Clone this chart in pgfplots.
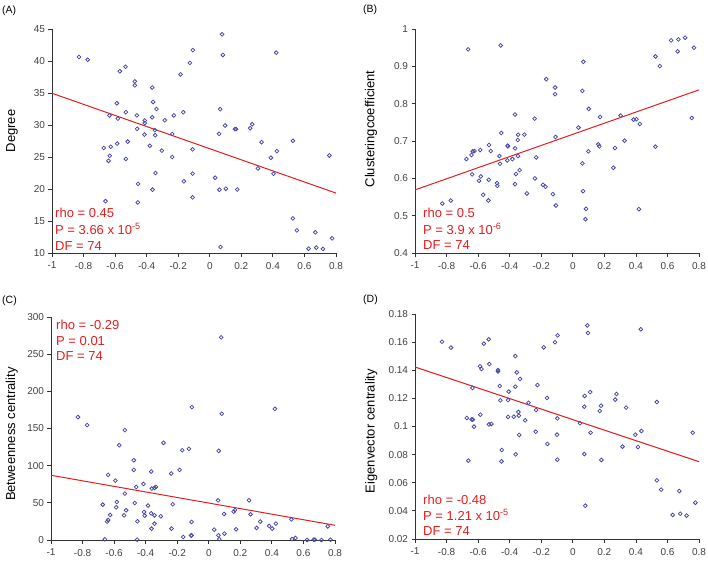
\documentclass[border=0pt]{standalone}
\usepackage{fontspec}
\setmainfont{Liberation Sans}
\usepackage{pgfplots}
\pgfplotsset{compat=1.18}
\definecolor{mk}{RGB}{70,70,165}
\definecolor{rl}{RGB}{228,30,30}
\pgfplotsset{myax/.style={
  scale only axis, width=284pt, height=224pt,
  xmin=-1, xmax=0.8,
  axis x line*=bottom, axis y line*=left,
  axis line style={line width=0.9pt, black!80, -},
  tick align=outside, major tick length=3.5pt,
  tick style={line width=0.8pt, black!80},
  xtick={-1,-0.8,-0.6,-0.4,-0.2,0,0.2,0.4,0.6,0.8},
  tick label style={font=\fontsize{10}{12}\selectfont, text=black!75},
  /pgf/number format/assume math mode=true,
  /pgf/number format/fixed,
  scaled y ticks=false, scaled x ticks=false,
  xticklabel style={yshift=-2pt},
  label style={font=\fontsize{13}{15}\selectfont},
  clip=false,
  anchor=south west,
},
pts/.style={only marks, mark=o, mark size=1.9pt, mk, mark options={line width=0.75pt}},
rline/.style={rl, line width=1pt, no marks},
}
\tikzset{
ann/.style={anchor=base west, text=rl, font=\fontsize{13}{15}\selectfont, inner sep=0pt},
plab/.style={anchor=west, font=\fontsize{10.5}{12}\selectfont, inner sep=0pt}
}
\begin{document}
\begin{tikzpicture}
\useasboundingbox (0,0) rectangle (708pt,-577pt);
% (A)
\begin{axis}[myax, at={(52pt,-253pt)}, ymin=10, ymax=45, ytick={10,15,20,25,30,35,40,45},
  ylabel={Degree}, ylabel style={at={(axis description cs:-0.141,0.545)}, anchor=center}]
\addplot[pts] coordinates {
(-0.829,40.63)(-0.774,40.2)(-0.570,38.4)(-0.534,39.1)(-0.475,36.8)(-0.475,36.2)(-0.365,35.85)(-0.589,33.4)(-0.359,33.6)(-0.338,32.5)(-0.532,32.0)(-0.636,31.5)(-0.583,31.0)(-0.462,31.5)(-0.365,31.2)(-0.412,30.7)(-0.412,30.3)(-0.285,30.75)(-0.228,31.5)(-0.168,32.0)(-0.185,37.9)(-0.126,39.7)(-0.107,41.7)(-0.460,29.4)(-0.348,29.2)(-0.414,28.5)(-0.346,28.4)(-0.238,28.6)(-0.672,26.4)(-0.628,26.6)(-0.587,27.1)(-0.520,27.4)(-0.380,26.75)(-0.304,26.0)(-0.634,25.2)(-0.642,24.4)(-0.532,24.7)(-0.238,25.0)(-0.109,26.2)(-0.344,22.5)(-0.109,22.4)(-0.164,21.2)(-0.454,20.8)(-0.363,19.9)(-0.109,18.7)(-0.661,18.1)(-0.456,17.9)
(0.078,44.17)(0.083,40.94)(0.421,41.3)(0.066,32.47)(0.097,29.92)(0.059,28.62)(0.159,29.35)(0.167,29.35)(0.256,29.5)(0.269,30.13)(0.328,27.32)(0.527,27.53)(0.425,25.92)(0.387,24.88)(0.758,25.24)(0.305,23.21)(0.404,22.38)(0.034,21.76)(0.061,19.88)(0.102,20.04)(0.174,19.93)(0.527,15.41)(0.552,13.54)(0.669,13.23)(0.775,12.29)(0.068,10.94)(0.626,10.68)(0.675,10.84)(0.717,10.63)
};
\addplot[rline] coordinates {(-1,34.96)(0.8,19.36)};
\end{axis}
% (B)
\begin{axis}[myax, at={(415pt,-253pt)}, ymin=0.4, ymax=1, ytick={0.4,0.5,0.6,0.7,0.8,0.9,1},
  ylabel={Clusteringcoefficient}, ylabel style={at={(axis description cs:-0.155,0.554)}, anchor=center}]
\addplot[pts] coordinates {
(-0.827,0.5325)(-0.773,0.5406)(-0.663,0.9454)(-0.457,0.9561)(-0.674,0.6517)(-0.642,0.6624)(-0.634,0.6722)(-0.623,0.6731)(-0.638,0.6105)(-0.587,0.6758)(-0.594,0.5934)(-0.583,0.6051)(-0.568,0.5558)(-0.535,0.5406)(-0.533,0.5961)(-0.531,0.6893)(-0.520,0.6731)(-0.480,0.5872)(-0.478,0.5800)(-0.465,0.6597)(-0.461,0.6391)(-0.453,0.7215)(-0.415,0.6481)(-0.413,0.6875)(-0.411,0.6857)(-0.383,0.6517)(-0.366,0.7708)(-0.366,0.6803)(-0.366,0.5845)(-0.360,0.6114)(-0.349,0.7027)(-0.347,0.7170)(-0.347,0.6597)(-0.337,0.6221)(-0.307,0.7170)(-0.291,0.5594)(-0.242,0.7600)(-0.240,0.5997)(-0.232,0.6561)(-0.189,0.5827)(-0.173,0.5773)(-0.168,0.8657)
(-0.126,0.5576)(-0.107,0.5272)(-0.109,0.7108)(-0.112,0.8433)(-0.112,0.8254)(0.036,0.7358)(0.061,0.8343)(0.067,0.9122)(0.101,0.7860)(0.061,0.6400)(0.099,0.6722)(0.065,0.5657)(0.084,0.5182)(0.080,0.4905)(0.162,0.6911)(0.168,0.6857)(0.173,0.7645)(0.267,0.6812)(0.257,0.6284)(0.303,0.7681)(0.328,0.7009)(0.385,0.7573)(0.404,0.7582)(0.425,0.7457)(0.419,0.5173)(0.524,0.9266)(0.552,0.9006)(0.524,0.6848)(0.623,0.9696)(0.669,0.9722)(0.712,0.9767)(0.665,0.9400)(0.768,0.9499)(0.754,0.7618)
};
\addplot[rline] coordinates {(-1,0.569)(0.8,0.837)};
\end{axis}
% (C)
\begin{axis}[myax, at={(51pt,-540pt)}, height=223pt, ymin=0, ymax=300, ytick={0,50,100,150,200,250,300},
  ylabel={Betweenness centrality}, ylabel style={at={(axis description cs:-0.138,0.475)}, anchor=center}]
\addplot[pts] coordinates {
(-0.829,165.3)(-0.771,154.5)(-0.532,147.8)(-0.568,127.5)(-0.475,107.3)(-0.475,94.3)(-0.365,92.1)(-0.287,130.7)(-0.168,120.8)(-0.126,122.6)(-0.107,178.7)(-0.185,94.3)(-0.238,89.4)(-0.638,87.6)(-0.592,79.9)(-0.414,75.4)(-0.460,71.4)(-0.532,62.4)(-0.361,69.2)(-0.344,70.1)(-0.335,71.4)(-0.672,47.6)(-0.583,51.2)(-0.587,44.0)(-0.469,49.8)(-0.385,46.3)(-0.524,40.0)(-0.537,33.2)(-0.410,37.7)(-0.406,32.8)(-0.365,35.9)(-0.344,33.2)(-0.304,31.9)(-0.228,48.1)(-0.625,33.7)(-0.638,26.9)(-0.644,24.7)(-0.452,25.1)(-0.344,22.0)(-0.363,15.3)(-0.236,15.3)(-0.109,24.3)(-0.109,6.3)(-0.112,6.0)(-0.162,4.0)(-0.659,0.9)(-0.454,0.4)
(0.078,272.6)(0.082,169.8)(0.419,176.5)(0.063,119.9)(0.059,53.4)(0.255,53.4)(0.097,35.0)(0.158,38.2)(0.166,40.4)(0.265,34.6)(0.326,24.7)(0.303,16.2)(0.383,18.9)(0.402,15.3)(0.425,22.0)(0.524,27.8)(0.754,18.4)(0.034,13.9)(0.173,14.4)(0.061,6.3)(0.099,8.5)(0.067,1.3)(0.528,1.3)(0.549,2.7)(0.623,0)(0.665,0.4)(0.672,0.4)(0.714,0)(0.771,0.4)
};
\addplot[rline] coordinates {(-1,87.1)(0.8,19.8)};
\end{axis}
% (D)
\begin{axis}[myax, at={(415pt,-539pt)}, height=225pt, ymin=0.02, ymax=0.18, ytick={0.02,0.04,0.06,0.08,0.1,0.12,0.14,0.16,0.18},
  ylabel={Eigenvector centrality}, ylabel style={at={(axis description cs:-0.154,0.48)}, anchor=center}]
\addplot[pts] coordinates {
(-0.829,0.1603)(-0.772,0.1561)(-0.564,0.1589)(-0.533,0.1620)(-0.588,0.1428)(-0.579,0.1409)(-0.529,0.1444)(-0.474,0.1402)(-0.474,0.1392)(-0.636,0.1274)(-0.463,0.1288)(-0.406,0.1248)(-0.364,0.1501)(-0.355,0.1385)(-0.334,0.1338)(-0.364,0.1283)(-0.459,0.1186)(-0.410,0.1188)(-0.281,0.1169)(-0.233,0.1117)(-0.224,0.1295)(-0.184,0.1563)(-0.163,0.1203)(-0.672,0.1060)(-0.641,0.1051)(-0.634,0.1049)(-0.586,0.1084)(-0.626,0.0999)(-0.531,0.1015)(-0.516,0.1018)(-0.410,0.1068)(-0.374,0.1070)(-0.345,0.1103)(-0.342,0.1077)(-0.302,0.1044)(-0.235,0.0963)(-0.340,0.0940)(-0.450,0.0833)(-0.362,0.0802)(-0.662,0.0757)(-0.452,0.0752)(-0.161,0.0876)
(-0.113,0.1599)(-0.096,0.1648)(-0.098,0.1058)(-0.100,0.0942)(-0.098,0.0764)(0.046,0.1023)(0.075,0.1217)(0.110,0.1245)(0.073,0.1141)(0.092,0.1719)(0.096,0.1665)(0.113,0.0956)(0.073,0.0804)(0.079,0.0437)(0.171,0.1110)(0.179,0.1148)(0.181,0.0762)(0.269,0.1191)(0.277,0.1231)(0.338,0.1134)(0.315,0.0857)(0.396,0.0942)(0.413,0.0854)(0.435,0.0968)(0.431,0.1691)(0.533,0.1174)(0.533,0.0617)(0.560,0.0551)(0.675,0.0541)(0.633,0.0371)(0.681,0.0380)(0.721,0.0366)(0.760,0.0956)(0.777,0.0458)
};
\addplot[rline] coordinates {(-1,0.1423)(0.8,0.075)};
\end{axis}
% annotations
\node[ann] at (55pt,-218pt) {rho = 0.45};
\node[ann] at (55pt,-234pt) {P = 3.66 x 10\textsuperscript{-5}};
\node[ann] at (55pt,-250pt) {DF = 74};
\node[ann] at (423pt,-218pt) {rho = 0.5};
\node[ann] at (423pt,-234pt) {P = 3.9 x 10\textsuperscript{-6}};
\node[ann] at (423pt,-249pt) {DF = 74};
\node[ann] at (56pt,-329pt) {rho = -0.29};
\node[ann] at (56pt,-345pt) {P = 0.01};
\node[ann] at (56pt,-360pt) {DF = 74};
\node[ann] at (423pt,-504pt) {rho = -0.48};
\node[ann] at (423pt,-520pt) {P = 1.21 x 10\textsuperscript{-5}};
\node[ann] at (423pt,-535pt) {DF = 74};
\node[plab] at (2pt,-11pt) {(A)};
\node[plab] at (363pt,-10pt) {(B)};
\node[plab] at (2pt,-301pt) {(C)};
\node[plab] at (363pt,-300pt) {(D)};
\end{tikzpicture}
\end{document}
